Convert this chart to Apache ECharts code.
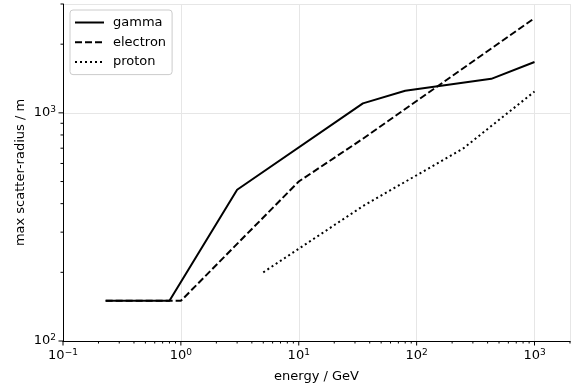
<!DOCTYPE html>
<html>
<head>
<meta charset="utf-8">
<script src="https://cdn.jsdelivr.net/npm/echarts@6/dist/echarts.min.js"></script>
<style>
html, body { margin: 0; padding: 0; background: #fff; }
#chart { width: 576px; height: 384px; }
</style>
</head>
<body>
<div id="chart"></div>
<script>
'use strict';

// energy (GeV) vs max scatter radius (m)
var gammaE = [0.23, 0.8, 3, 35, 80, 430, 1000];
var gammaR = [150, 150, 460, 1100, 1250, 1410, 1670];
var electronE = [0.23, 1, 10, 35, 1000];
var electronR = [150, 150, 500, 770, 2600];
var protonE = [5, 35, 250, 1000];
var protonR = [200, 390, 700, 1240];

var xRange = [0.1, 2000];
var yRange = [100, 3000];
var xDecades = [0.1, 1, 10, 100, 1000];
var yDecades = [100, 1000];

var FONT = 'DejaVu Sans';

function pairs(xs, ys) {
    return xs.map(function (x, i) { return [x, ys[i]]; });
}

// major + minor log ticks (1..9 per decade) inside the range
function logTicks(decades, range) {
    var out = [];
    decades.forEach(function (d) {
        for (var m = 1; m <= 9; m++) {
            var v = +(d * m).toPrecision(6);
            if (v >= range[0] && v <= range[1]) out.push([v, m === 1 ? 1 : 0]);
        }
    });
    return out;
}

function powLabel(v) {
    var l = Math.log10(v);
    var n = Math.round(l);
    if (Math.abs(l - n) > 1e-6) return '';
    return '10{s|' + (n < 0 ? '\u2212' + (-n) : n) + '}';
}

var labelStyle = {
    color: '#000',
    fontSize: 13,
    fontFamily: FONT,
    formatter: powLabel,
    rich: {
        s: { fontSize: 9, fontFamily: FONT, color: '#000', verticalAlign: 'bottom', padding: [0, 0, 7, 0] }
    }
};

var xTicks = logTicks(xDecades, xRange).map(function (t) { return [t[0], yRange[0], t[1]]; });
var yTicks = logTicks(yDecades, yRange).map(function (t) { return [xRange[0], t[0], t[1]]; });

function tickRenderer(dir) {
    return function (params, api) {
        var p = api.coord([api.value(0), api.value(1)]);
        var len = api.value(2) ? 4.5 : 2.5;
        var shape = dir === 'x'
            ? { x1: p[0], y1: p[1], x2: p[0], y2: p[1] + len }
            : { x1: p[0], y1: p[1], x2: p[0] - len, y2: p[1] };
        return { type: 'line', shape: shape, style: { stroke: '#000', lineWidth: 1 } };
    };
}

var lineBase = {
    type: 'line',
    symbol: 'none',
    smooth: false,
    silent: true,
    z: 3
};

var option = {
    animation: false,
    backgroundColor: '#fff',
    textStyle: { fontFamily: FONT },
    grid: { left: 63, right: 6, top: 4, bottom: 43, containLabel: false, outerBoundsMode: 'none' },
    legend: {
        data: ['gamma', 'electron', 'proton'],
        orient: 'vertical',
        left: 70,
        top: 10,
        padding: [6, 6, 6, 4],
        itemWidth: 29,
        itemHeight: 14,
        itemGap: 6.8,
        borderColor: '#cccccc',
        borderWidth: 1,
        borderRadius: 3,
        backgroundColor: 'rgba(255,255,255,0.8)',
        itemStyle: { opacity: 0 },
        textStyle: { color: '#000', fontSize: 13, fontFamily: FONT, padding: [0, 0, 0, 4] }
    },
    xAxis: {
        type: 'log',
        logBase: 10,
        min: xRange[0],
        max: xRange[1],
        name: 'energy / GeV',
        nameLocation: 'middle',
        nameGap: 29,
        nameMoveOverlap: false,
        nameTextStyle: { color: '#000', fontSize: 13, fontFamily: FONT },
        axisLine: { lineStyle: { color: '#000', width: 1 } },
        axisTick: { show: false },
        axisLabel: Object.assign({ margin: 7 }, labelStyle),
        splitLine: { show: true, lineStyle: { color: '#e6e6e6', width: 1 } }
    },
    yAxis: {
        type: 'log',
        logBase: 10,
        min: yRange[0],
        max: yRange[1],
        name: 'max scatter-radius / m',
        nameLocation: 'middle',
        nameGap: 36,
        nameMoveOverlap: false,
        nameTextStyle: { color: '#000', fontSize: 13, fontFamily: FONT },
        axisLine: { lineStyle: { color: '#000', width: 1 } },
        axisTick: { show: false },
        axisLabel: Object.assign({ margin: 7 }, labelStyle),
        splitLine: { show: true, lineStyle: { color: '#e6e6e6', width: 1 } }
    },
    series: [
        Object.assign({}, lineBase, {
            name: 'gamma',
            data: pairs(gammaE, gammaR),
            itemStyle: { color: '#000' },
            lineStyle: { color: '#000', width: 2, type: 'solid' }
        }),
        Object.assign({}, lineBase, {
            name: 'electron',
            data: pairs(electronE, electronR),
            itemStyle: { color: '#000' },
            lineStyle: { color: '#000', width: 2, type: [7, 3] }
        }),
        Object.assign({}, lineBase, {
            name: 'proton',
            data: pairs(protonE, protonR),
            itemStyle: { color: '#000' },
            lineStyle: { color: '#000', width: 2, type: [2, 3] }
        }),
        {
            type: 'custom',
            name: 'xticks',
            silent: true,
            clip: false,
            z: 5,
            data: xTicks,
            renderItem: tickRenderer('x')
        },
        {
            type: 'custom',
            name: 'yticks',
            silent: true,
            clip: false,
            z: 5,
            data: yTicks,
            renderItem: tickRenderer('y')
        }
    ]
};

var myChart = echarts.init(document.getElementById('chart'), null, { renderer: 'canvas' });
myChart.setOption(option);
</script>
</body>
</html>
